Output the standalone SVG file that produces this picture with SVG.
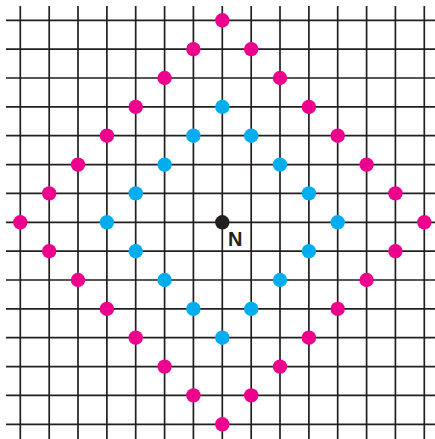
<svg xmlns="http://www.w3.org/2000/svg" width="435" height="439" viewBox="0 0 435 439">
<style>
.grid{stroke:#231f20;stroke-width:1.7;fill:none}
.m{fill:#ec008c}
.c{fill:#00aeef}
.k{fill:#231f20}
.lbl{font-family:"Liberation Sans",Arial,sans-serif;font-weight:bold;font-size:20px;fill:#231f20}
</style>
<rect width="435" height="439" fill="#fff"/>
<g id="grid" class="grid">
<path d="M20.3 6V439M49.2 6V439M78 6V439M106.9 6V439M135.7 6V439M164.6 6V439M193.4 6V439M222.3 6V439M251.2 6V439M280 6V439M308.9 6V439M337.7 6V439M366.6 6V439M395.4 6V439M424.3 6V439"/>
<path d="M6 20.3H435M6 49.2H435M6 78H435M6 106.9H435M6 135.7H435M6 164.6H435M6 193.4H435M6 222.3H435M6 251.2H435M6 280H435M6 308.9H435M6 337.7H435M6 366.6H435M6 395.4H435M6 424.3H435"/>
</g>
<g id="magenta" class="m">
<circle cx="222.3" cy="20.3" r="7.2"/>
<circle cx="193.4" cy="49.2" r="7.2"/><circle cx="251.2" cy="49.2" r="7.2"/>
<circle cx="164.6" cy="78" r="7.2"/><circle cx="280" cy="78" r="7.2"/>
<circle cx="135.7" cy="106.9" r="7.2"/><circle cx="308.9" cy="106.9" r="7.2"/>
<circle cx="106.9" cy="135.7" r="7.2"/><circle cx="337.7" cy="135.7" r="7.2"/>
<circle cx="78" cy="164.6" r="7.2"/><circle cx="366.6" cy="164.6" r="7.2"/>
<circle cx="49.2" cy="193.4" r="7.2"/><circle cx="395.4" cy="193.4" r="7.2"/>
<circle cx="20.3" cy="222.3" r="7.2"/><circle cx="424.3" cy="222.3" r="7.2"/>
<circle cx="49.2" cy="251.2" r="7.2"/><circle cx="395.4" cy="251.2" r="7.2"/>
<circle cx="78" cy="280" r="7.2"/><circle cx="366.6" cy="280" r="7.2"/>
<circle cx="106.9" cy="308.9" r="7.2"/><circle cx="337.7" cy="308.9" r="7.2"/>
<circle cx="135.7" cy="337.7" r="7.2"/><circle cx="308.9" cy="337.7" r="7.2"/>
<circle cx="164.6" cy="366.6" r="7.2"/><circle cx="280" cy="366.6" r="7.2"/>
<circle cx="193.4" cy="395.4" r="7.2"/><circle cx="251.2" cy="395.4" r="7.2"/>
<circle cx="222.3" cy="424.3" r="7.2"/>
</g>
<g id="cyan" class="c">
<circle cx="222.3" cy="106.9" r="7.2"/>
<circle cx="193.4" cy="135.7" r="7.2"/><circle cx="251.2" cy="135.7" r="7.2"/>
<circle cx="164.6" cy="164.6" r="7.2"/><circle cx="280" cy="164.6" r="7.2"/>
<circle cx="135.7" cy="193.4" r="7.2"/><circle cx="308.9" cy="193.4" r="7.2"/>
<circle cx="106.9" cy="222.3" r="7.2"/><circle cx="337.7" cy="222.3" r="7.2"/>
<circle cx="135.7" cy="251.2" r="7.2"/><circle cx="308.9" cy="251.2" r="7.2"/>
<circle cx="164.6" cy="280" r="7.2"/><circle cx="280" cy="280" r="7.2"/>
<circle cx="193.4" cy="308.9" r="7.2"/><circle cx="251.2" cy="308.9" r="7.2"/>
<circle cx="222.3" cy="337.7" r="7.2"/>
</g>
<g id="N">
<circle class="k" cx="222.3" cy="222.3" r="7.2"/>
<text class="lbl" x="228" y="245.8">N</text>
</g>
</svg>
